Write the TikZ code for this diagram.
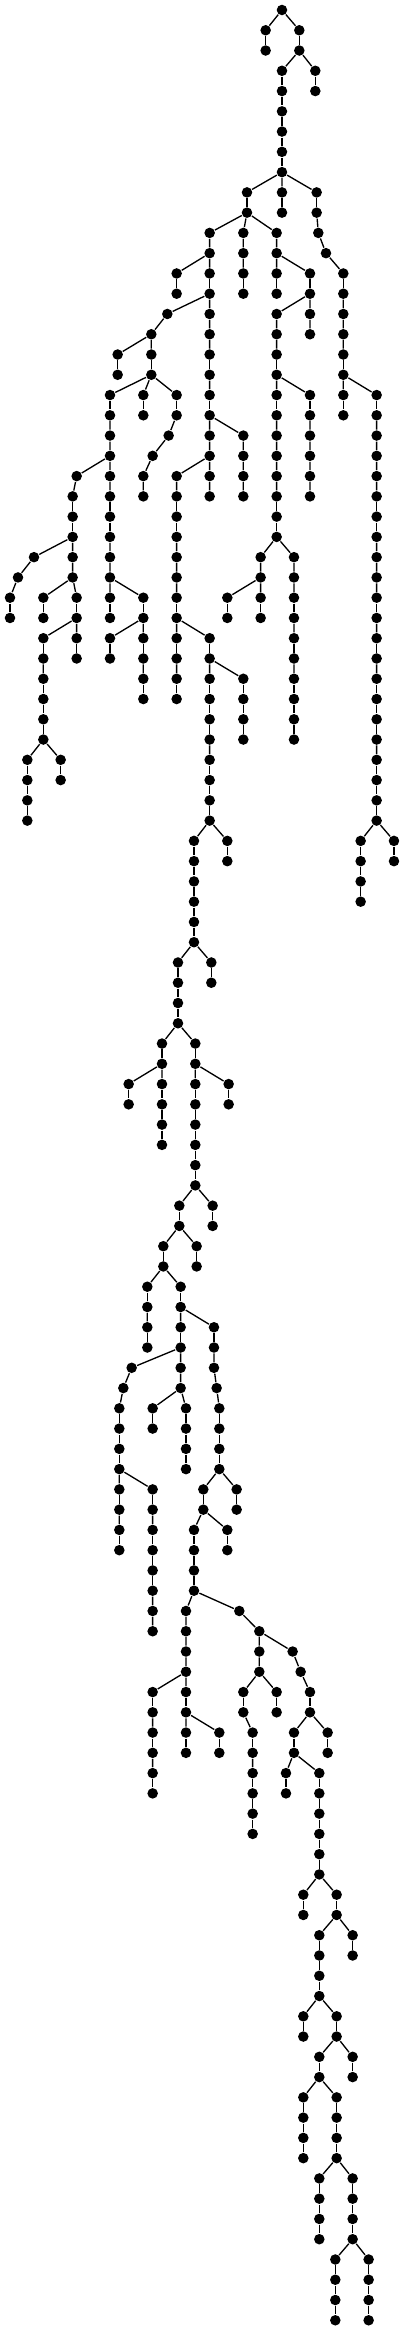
\documentclass[tikz,border=0pt]{standalone}
\begin{document}
\begin{tikzpicture}[x=0.25pt,y=-15.2pt,line join=round,line width=1pt,
  v/.style={circle,fill=black,inner sep=0pt,minimum size=7.9pt}]
\useasboundingbox (0,-0.493) rectangle (1212,114.53);
% vertices, one line per level
\node[v] (n0x846) at (846,0) {};
\node[v] (n1x797) at (797,1) {}; \node[v] (n1x898) at (898,1) {};
\node[v] (n2x797) at (797,2) {}; \node[v] (n2x898) at (898,2) {};
\node[v] (n3x846) at (846,3) {}; \node[v] (n3x946) at (946,3) {};
\node[v] (n4x846) at (846,4) {}; \node[v] (n4x946) at (946,4) {};
\node[v] (n5x846) at (846,5) {};
\node[v] (n6x846) at (846,6) {};
\node[v] (n7x846) at (846,7) {};
\node[v] (n8x846) at (846,8) {};
\node[v] (n9x741) at (741,9) {}; \node[v] (n9x846) at (846,9) {}; \node[v] (n9x950) at (950,9) {};
\node[v] (n10x741) at (741,10) {}; \node[v] (n10x846) at (846,10) {}; \node[v] (n10x950) at (950,10) {};
\node[v] (n11x629) at (629,11) {}; \node[v] (n11x730) at (730,11) {}; \node[v] (n11x830) at (830,11) {}; \node[v] (n11x955) at (955,11) {};
\node[v] (n12x629) at (629,12) {}; \node[v] (n12x730) at (730,12) {}; \node[v] (n12x830) at (830,12) {}; \node[v] (n12x978) at (978,12) {};
\node[v] (n13x530) at (530,13) {}; \node[v] (n13x629) at (629,13) {}; \node[v] (n13x730) at (730,13) {}; \node[v] (n13x830) at (830,13) {}; \node[v] (n13x930) at (930,13) {}; \node[v] (n13x1030) at (1030,13) {};
\node[v] (n14x530) at (530,14) {}; \node[v] (n14x629) at (629,14) {}; \node[v] (n14x730) at (730,14) {}; \node[v] (n14x830) at (830,14) {}; \node[v] (n14x930) at (930,14) {}; \node[v] (n14x1030) at (1030,14) {};
\node[v] (n15x502) at (502,15) {}; \node[v] (n15x629) at (629,15) {}; \node[v] (n15x830) at (830,15) {}; \node[v] (n15x930) at (930,15) {}; \node[v] (n15x1030) at (1030,15) {};
\node[v] (n16x454) at (454,16) {}; \node[v] (n16x629) at (629,16) {}; \node[v] (n16x830) at (830,16) {}; \node[v] (n16x930) at (930,16) {}; \node[v] (n16x1030) at (1030,16) {};
\node[v] (n17x353) at (353,17) {}; \node[v] (n17x454) at (454,17) {}; \node[v] (n17x629) at (629,17) {}; \node[v] (n17x830) at (830,17) {}; \node[v] (n17x1030) at (1030,17) {};
\node[v] (n18x353) at (353,18) {}; \node[v] (n18x454) at (454,18) {}; \node[v] (n18x629) at (629,18) {}; \node[v] (n18x830) at (830,18) {}; \node[v] (n18x1030) at (1030,18) {};
\node[v] (n19x330) at (330,19) {}; \node[v] (n19x430) at (430,19) {}; \node[v] (n19x530) at (530,19) {}; \node[v] (n19x629) at (629,19) {}; \node[v] (n19x830) at (830,19) {}; \node[v] (n19x930) at (930,19) {}; \node[v] (n19x1030) at (1030,19) {}; \node[v] (n19x1130) at (1130,19) {};
\node[v] (n20x330) at (330,20) {}; \node[v] (n20x430) at (430,20) {}; \node[v] (n20x530) at (530,20) {}; \node[v] (n20x629) at (629,20) {}; \node[v] (n20x830) at (830,20) {}; \node[v] (n20x930) at (930,20) {}; \node[v] (n20x1030) at (1030,20) {}; \node[v] (n20x1130) at (1130,20) {};
\node[v] (n21x330) at (330,21) {}; \node[v] (n21x506) at (506,21) {}; \node[v] (n21x629) at (629,21) {}; \node[v] (n21x730) at (730,21) {}; \node[v] (n21x830) at (830,21) {}; \node[v] (n21x930) at (930,21) {}; \node[v] (n21x1130) at (1130,21) {};
\node[v] (n22x330) at (330,22) {}; \node[v] (n22x458) at (458,22) {}; \node[v] (n22x629) at (629,22) {}; \node[v] (n22x730) at (730,22) {}; \node[v] (n22x830) at (830,22) {}; \node[v] (n22x930) at (930,22) {}; \node[v] (n22x1130) at (1130,22) {};
\node[v] (n23x230) at (230,23) {}; \node[v] (n23x330) at (330,23) {}; \node[v] (n23x430) at (430,23) {}; \node[v] (n23x530) at (530,23) {}; \node[v] (n23x629) at (629,23) {}; \node[v] (n23x730) at (730,23) {}; \node[v] (n23x830) at (830,23) {}; \node[v] (n23x930) at (930,23) {}; \node[v] (n23x1130) at (1130,23) {};
\node[v] (n24x218) at (218,24) {}; \node[v] (n24x330) at (330,24) {}; \node[v] (n24x430) at (430,24) {}; \node[v] (n24x530) at (530,24) {}; \node[v] (n24x629) at (629,24) {}; \node[v] (n24x730) at (730,24) {}; \node[v] (n24x830) at (830,24) {}; \node[v] (n24x930) at (930,24) {}; \node[v] (n24x1130) at (1130,24) {};
\node[v] (n25x218) at (218,25) {}; \node[v] (n25x330) at (330,25) {}; \node[v] (n25x530) at (530,25) {}; \node[v] (n25x830) at (830,25) {}; \node[v] (n25x1130) at (1130,25) {};
\node[v] (n26x218) at (218,26) {}; \node[v] (n26x330) at (330,26) {}; \node[v] (n26x530) at (530,26) {}; \node[v] (n26x830) at (830,26) {}; \node[v] (n26x1130) at (1130,26) {};
\node[v] (n27x102) at (102,27) {}; \node[v] (n27x218) at (218,27) {}; \node[v] (n27x330) at (330,27) {}; \node[v] (n27x530) at (530,27) {}; \node[v] (n27x782) at (782,27) {}; \node[v] (n27x882) at (882,27) {}; \node[v] (n27x1130) at (1130,27) {};
\node[v] (n28x54) at (54,28) {}; \node[v] (n28x218) at (218,28) {}; \node[v] (n28x330) at (330,28) {}; \node[v] (n28x530) at (530,28) {}; \node[v] (n28x782) at (782,28) {}; \node[v] (n28x882) at (882,28) {}; \node[v] (n28x1130) at (1130,28) {};
\node[v] (n29x30) at (30,29) {}; \node[v] (n29x130) at (130,29) {}; \node[v] (n29x230) at (230,29) {}; \node[v] (n29x330) at (330,29) {}; \node[v] (n29x430) at (430,29) {}; \node[v] (n29x530) at (530,29) {}; \node[v] (n29x682) at (682,29) {}; \node[v] (n29x782) at (782,29) {}; \node[v] (n29x882) at (882,29) {}; \node[v] (n29x1130) at (1130,29) {};
\node[v] (n30x30) at (30,30) {}; \node[v] (n30x130) at (130,30) {}; \node[v] (n30x230) at (230,30) {}; \node[v] (n30x330) at (330,30) {}; \node[v] (n30x430) at (430,30) {}; \node[v] (n30x530) at (530,30) {}; \node[v] (n30x682) at (682,30) {}; \node[v] (n30x782) at (782,30) {}; \node[v] (n30x882) at (882,30) {}; \node[v] (n30x1130) at (1130,30) {};
\node[v] (n31x130) at (130,31) {}; \node[v] (n31x230) at (230,31) {}; \node[v] (n31x330) at (330,31) {}; \node[v] (n31x430) at (430,31) {}; \node[v] (n31x530) at (530,31) {}; \node[v] (n31x629) at (629,31) {}; \node[v] (n31x882) at (882,31) {}; \node[v] (n31x1130) at (1130,31) {};
\node[v] (n32x130) at (130,32) {}; \node[v] (n32x230) at (230,32) {}; \node[v] (n32x330) at (330,32) {}; \node[v] (n32x430) at (430,32) {}; \node[v] (n32x530) at (530,32) {}; \node[v] (n32x629) at (629,32) {}; \node[v] (n32x882) at (882,32) {}; \node[v] (n32x1130) at (1130,32) {};
\node[v] (n33x130) at (130,33) {}; \node[v] (n33x430) at (430,33) {}; \node[v] (n33x530) at (530,33) {}; \node[v] (n33x629) at (629,33) {}; \node[v] (n33x730) at (730,33) {}; \node[v] (n33x882) at (882,33) {}; \node[v] (n33x1130) at (1130,33) {};
\node[v] (n34x130) at (130,34) {}; \node[v] (n34x430) at (430,34) {}; \node[v] (n34x530) at (530,34) {}; \node[v] (n34x629) at (629,34) {}; \node[v] (n34x730) at (730,34) {}; \node[v] (n34x882) at (882,34) {}; \node[v] (n34x1130) at (1130,34) {};
\node[v] (n35x130) at (130,35) {}; \node[v] (n35x629) at (629,35) {}; \node[v] (n35x730) at (730,35) {}; \node[v] (n35x882) at (882,35) {}; \node[v] (n35x1130) at (1130,35) {};
\node[v] (n36x130) at (130,36) {}; \node[v] (n36x629) at (629,36) {}; \node[v] (n36x730) at (730,36) {}; \node[v] (n36x882) at (882,36) {}; \node[v] (n36x1130) at (1130,36) {};
\node[v] (n37x82) at (82,37) {}; \node[v] (n37x182) at (182,37) {}; \node[v] (n37x629) at (629,37) {}; \node[v] (n37x1130) at (1130,37) {};
\node[v] (n38x82) at (82,38) {}; \node[v] (n38x182) at (182,38) {}; \node[v] (n38x629) at (629,38) {}; \node[v] (n38x1130) at (1130,38) {};
\node[v] (n39x82) at (82,39) {}; \node[v] (n39x629) at (629,39) {}; \node[v] (n39x1130) at (1130,39) {};
\node[v] (n40x82) at (82,40) {}; \node[v] (n40x629) at (629,40) {}; \node[v] (n40x1130) at (1130,40) {};
\node[v] (n41x582) at (582,41) {}; \node[v] (n41x682) at (682,41) {}; \node[v] (n41x1082) at (1082,41) {}; \node[v] (n41x1182) at (1182,41) {};
\node[v] (n42x582) at (582,42) {}; \node[v] (n42x682) at (682,42) {}; \node[v] (n42x1082) at (1082,42) {}; \node[v] (n42x1182) at (1182,42) {};
\node[v] (n43x582) at (582,43) {}; \node[v] (n43x1082) at (1082,43) {};
\node[v] (n44x582) at (582,44) {}; \node[v] (n44x1082) at (1082,44) {};
\node[v] (n45x582) at (582,45) {};
\node[v] (n46x582) at (582,46) {};
\node[v] (n47x534) at (534,47) {}; \node[v] (n47x634) at (634,47) {};
\node[v] (n48x534) at (534,48) {}; \node[v] (n48x634) at (634,48) {};
\node[v] (n49x534) at (534,49) {};
\node[v] (n50x534) at (534,50) {};
\node[v] (n51x486) at (486,51) {}; \node[v] (n51x586) at (586,51) {};
\node[v] (n52x486) at (486,52) {}; \node[v] (n52x586) at (586,52) {};
\node[v] (n53x386) at (386,53) {}; \node[v] (n53x486) at (486,53) {}; \node[v] (n53x586) at (586,53) {}; \node[v] (n53x686) at (686,53) {};
\node[v] (n54x386) at (386,54) {}; \node[v] (n54x486) at (486,54) {}; \node[v] (n54x586) at (586,54) {}; \node[v] (n54x686) at (686,54) {};
\node[v] (n55x486) at (486,55) {}; \node[v] (n55x586) at (586,55) {};
\node[v] (n56x486) at (486,56) {}; \node[v] (n56x586) at (586,56) {};
\node[v] (n57x586) at (586,57) {};
\node[v] (n58x586) at (586,58) {};
\node[v] (n59x538) at (538,59) {}; \node[v] (n59x638) at (638,59) {};
\node[v] (n60x538) at (538,60) {}; \node[v] (n60x638) at (638,60) {};
\node[v] (n61x490) at (490,61) {}; \node[v] (n61x590) at (590,61) {};
\node[v] (n62x490) at (490,62) {}; \node[v] (n62x590) at (590,62) {};
\node[v] (n63x442) at (442,63) {}; \node[v] (n63x542) at (542,63) {};
\node[v] (n64x442) at (442,64) {}; \node[v] (n64x542) at (542,64) {};
\node[v] (n65x442) at (442,65) {}; \node[v] (n65x542) at (542,65) {}; \node[v] (n65x642) at (642,65) {};
\node[v] (n66x442) at (442,66) {}; \node[v] (n66x542) at (542,66) {}; \node[v] (n66x642) at (642,66) {};
\node[v] (n67x395) at (395,67) {}; \node[v] (n67x542) at (542,67) {}; \node[v] (n67x642) at (642,67) {};
\node[v] (n68x370) at (370,68) {}; \node[v] (n68x542) at (542,68) {}; \node[v] (n68x650) at (650,68) {};
\node[v] (n69x358) at (358,69) {}; \node[v] (n69x458) at (458,69) {}; \node[v] (n69x558) at (558,69) {}; \node[v] (n69x658) at (658,69) {};
\node[v] (n70x358) at (358,70) {}; \node[v] (n70x458) at (458,70) {}; \node[v] (n70x558) at (558,70) {}; \node[v] (n70x658) at (658,70) {};
\node[v] (n71x358) at (358,71) {}; \node[v] (n71x558) at (558,71) {}; \node[v] (n71x658) at (658,71) {};
\node[v] (n72x358) at (358,72) {}; \node[v] (n72x558) at (558,72) {}; \node[v] (n72x658) at (658,72) {};
\node[v] (n73x358) at (358,73) {}; \node[v] (n73x458) at (458,73) {}; \node[v] (n73x610) at (610,73) {}; \node[v] (n73x710) at (710,73) {};
\node[v] (n74x358) at (358,74) {}; \node[v] (n74x458) at (458,74) {}; \node[v] (n74x610) at (610,74) {}; \node[v] (n74x710) at (710,74) {};
\node[v] (n75x358) at (358,75) {}; \node[v] (n75x458) at (458,75) {}; \node[v] (n75x582) at (582,75) {}; \node[v] (n75x682) at (682,75) {};
\node[v] (n76x358) at (358,76) {}; \node[v] (n76x458) at (458,76) {}; \node[v] (n76x582) at (582,76) {}; \node[v] (n76x682) at (682,76) {};
\node[v] (n77x458) at (458,77) {}; \node[v] (n77x582) at (582,77) {};
\node[v] (n78x458) at (458,78) {}; \node[v] (n78x582) at (582,78) {};
\node[v] (n79x458) at (458,79) {}; \node[v] (n79x558) at (558,79) {}; \node[v] (n79x718) at (718,79) {};
\node[v] (n80x458) at (458,80) {}; \node[v] (n80x558) at (558,80) {}; \node[v] (n80x778) at (778,80) {};
\node[v] (n81x558) at (558,81) {}; \node[v] (n81x778) at (778,81) {}; \node[v] (n81x878) at (878,81) {};
\node[v] (n82x558) at (558,82) {}; \node[v] (n82x778) at (778,82) {}; \node[v] (n82x902) at (902,82) {};
\node[v] (n83x458) at (458,83) {}; \node[v] (n83x558) at (558,83) {}; \node[v] (n83x730) at (730,83) {}; \node[v] (n83x830) at (830,83) {}; \node[v] (n83x930) at (930,83) {};
\node[v] (n84x458) at (458,84) {}; \node[v] (n84x558) at (558,84) {}; \node[v] (n84x730) at (730,84) {}; \node[v] (n84x830) at (830,84) {}; \node[v] (n84x930) at (930,84) {};
\node[v] (n85x458) at (458,85) {}; \node[v] (n85x558) at (558,85) {}; \node[v] (n85x658) at (658,85) {}; \node[v] (n85x758) at (758,85) {}; \node[v] (n85x882) at (882,85) {}; \node[v] (n85x983) at (983,85) {};
\node[v] (n86x458) at (458,86) {}; \node[v] (n86x558) at (558,86) {}; \node[v] (n86x658) at (658,86) {}; \node[v] (n86x758) at (758,86) {}; \node[v] (n86x882) at (882,86) {}; \node[v] (n86x983) at (983,86) {};
\node[v] (n87x458) at (458,87) {}; \node[v] (n87x758) at (758,87) {}; \node[v] (n87x858) at (858,87) {}; \node[v] (n87x958) at (958,87) {};
\node[v] (n88x458) at (458,88) {}; \node[v] (n88x758) at (758,88) {}; \node[v] (n88x858) at (858,88) {}; \node[v] (n88x958) at (958,88) {};
\node[v] (n89x758) at (758,89) {}; \node[v] (n89x958) at (958,89) {};
\node[v] (n90x758) at (758,90) {}; \node[v] (n90x958) at (958,90) {};
\node[v] (n91x958) at (958,91) {};
\node[v] (n92x958) at (958,92) {};
\node[v] (n93x910) at (910,93) {}; \node[v] (n93x1010) at (1010,93) {};
\node[v] (n94x910) at (910,94) {}; \node[v] (n94x1010) at (1010,94) {};
\node[v] (n95x958) at (958,95) {}; \node[v] (n95x1058) at (1058,95) {};
\node[v] (n96x958) at (958,96) {}; \node[v] (n96x1058) at (1058,96) {};
\node[v] (n97x958) at (958,97) {};
\node[v] (n98x958) at (958,98) {};
\node[v] (n99x910) at (910,99) {}; \node[v] (n99x1010) at (1010,99) {};
\node[v] (n100x910) at (910,100) {}; \node[v] (n100x1010) at (1010,100) {};
\node[v] (n101x958) at (958,101) {}; \node[v] (n101x1058) at (1058,101) {};
\node[v] (n102x958) at (958,102) {}; \node[v] (n102x1058) at (1058,102) {};
\node[v] (n103x910) at (910,103) {}; \node[v] (n103x1010) at (1010,103) {};
\node[v] (n104x910) at (910,104) {}; \node[v] (n104x1010) at (1010,104) {};
\node[v] (n105x910) at (910,105) {}; \node[v] (n105x1010) at (1010,105) {};
\node[v] (n106x910) at (910,106) {}; \node[v] (n106x1010) at (1010,106) {};
\node[v] (n107x958) at (958,107) {}; \node[v] (n107x1058) at (1058,107) {};
\node[v] (n108x958) at (958,108) {}; \node[v] (n108x1058) at (1058,108) {};
\node[v] (n109x958) at (958,109) {}; \node[v] (n109x1058) at (1058,109) {};
\node[v] (n110x958) at (958,110) {}; \node[v] (n110x1058) at (1058,110) {};
\node[v] (n111x1006) at (1006,111) {}; \node[v] (n111x1106) at (1106,111) {};
\node[v] (n112x1006) at (1006,112) {}; \node[v] (n112x1106) at (1106,112) {};
\node[v] (n113x1006) at (1006,113) {}; \node[v] (n113x1106) at (1106,113) {};
\node[v] (n114x1006) at (1006,114) {}; \node[v] (n114x1106) at (1106,114) {};
% edges, one line per level
\draw (n0x846)--(n1x797) (n0x846)--(n1x898);
\draw (n1x797)--(n2x797) (n1x898)--(n2x898);
\draw (n2x898)--(n3x846) (n2x898)--(n3x946);
\draw (n3x846)--(n4x846) (n3x946)--(n4x946);
\draw (n4x846)--(n5x846) (n5x846)--(n6x846) (n6x846)--(n7x846) (n7x846)--(n8x846);
\draw (n8x846)--(n9x741) (n8x846)--(n9x846) (n8x846)--(n9x950);
\draw (n9x741)--(n10x741) (n9x846)--(n10x846) (n9x950)--(n10x950);
\draw (n10x741)--(n11x629) (n10x741)--(n11x730) (n10x741)--(n11x830) (n10x950)--(n11x955);
\draw (n11x629)--(n12x629) (n11x730)--(n12x730) (n11x830)--(n12x830) (n11x955)--(n12x978);
\draw (n12x629)--(n13x530) (n12x629)--(n13x629) (n12x730)--(n13x730) (n12x830)--(n13x830) (n12x830)--(n13x930) (n12x978)--(n13x1030);
\draw (n13x530)--(n14x530) (n13x629)--(n14x629) (n13x730)--(n14x730) (n13x830)--(n14x830) (n13x930)--(n14x930) (n13x1030)--(n14x1030);
\draw (n14x629)--(n15x502) (n14x629)--(n15x629) (n14x930)--(n15x830) (n14x930)--(n15x930) (n14x1030)--(n15x1030);
\draw (n15x502)--(n16x454) (n15x629)--(n16x629) (n15x830)--(n16x830) (n15x930)--(n16x930) (n15x1030)--(n16x1030);
\draw (n16x454)--(n17x353) (n16x454)--(n17x454) (n16x629)--(n17x629) (n16x830)--(n17x830) (n16x1030)--(n17x1030);
\draw (n17x353)--(n18x353) (n17x454)--(n18x454) (n17x629)--(n18x629) (n17x830)--(n18x830) (n17x1030)--(n18x1030);
\draw (n18x454)--(n19x330) (n18x454)--(n19x430) (n18x454)--(n19x530) (n18x629)--(n19x629) (n18x830)--(n19x830) (n18x830)--(n19x930) (n18x1030)--(n19x1030) (n18x1030)--(n19x1130);
\draw (n19x330)--(n20x330) (n19x430)--(n20x430) (n19x530)--(n20x530) (n19x629)--(n20x629) (n19x830)--(n20x830) (n19x930)--(n20x930) (n19x1030)--(n20x1030) (n19x1130)--(n20x1130);
\draw (n20x330)--(n21x330) (n20x530)--(n21x506) (n20x629)--(n21x629) (n20x629)--(n21x730) (n20x830)--(n21x830) (n20x930)--(n21x930) (n20x1130)--(n21x1130);
\draw (n21x330)--(n22x330) (n21x506)--(n22x458) (n21x629)--(n22x629) (n21x730)--(n22x730) (n21x830)--(n22x830) (n21x930)--(n22x930) (n21x1130)--(n22x1130);
\draw (n22x330)--(n23x230) (n22x330)--(n23x330) (n22x458)--(n23x430) (n22x629)--(n23x530) (n22x629)--(n23x629) (n22x730)--(n23x730) (n22x830)--(n23x830) (n22x930)--(n23x930) (n22x1130)--(n23x1130);
\draw (n23x230)--(n24x218) (n23x330)--(n24x330) (n23x430)--(n24x430) (n23x530)--(n24x530) (n23x629)--(n24x629) (n23x730)--(n24x730) (n23x830)--(n24x830) (n23x930)--(n24x930) (n23x1130)--(n24x1130);
\draw (n24x218)--(n25x218) (n24x330)--(n25x330) (n24x530)--(n25x530) (n24x830)--(n25x830) (n24x1130)--(n25x1130);
\draw (n25x218)--(n26x218) (n25x330)--(n26x330) (n25x530)--(n26x530) (n25x830)--(n26x830) (n25x1130)--(n26x1130);
\draw (n26x218)--(n27x102) (n26x218)--(n27x218) (n26x330)--(n27x330) (n26x530)--(n27x530) (n26x830)--(n27x782) (n26x830)--(n27x882) (n26x1130)--(n27x1130);
\draw (n27x102)--(n28x54) (n27x218)--(n28x218) (n27x330)--(n28x330) (n27x530)--(n28x530) (n27x782)--(n28x782) (n27x882)--(n28x882) (n27x1130)--(n28x1130);
\draw (n28x54)--(n29x30) (n28x218)--(n29x130) (n28x218)--(n29x230) (n28x330)--(n29x330) (n28x330)--(n29x430) (n28x530)--(n29x530) (n28x782)--(n29x682) (n28x782)--(n29x782) (n28x882)--(n29x882) (n28x1130)--(n29x1130);
\draw (n29x30)--(n30x30) (n29x130)--(n30x130) (n29x230)--(n30x230) (n29x330)--(n30x330) (n29x430)--(n30x430) (n29x530)--(n30x530) (n29x682)--(n30x682) (n29x782)--(n30x782) (n29x882)--(n30x882) (n29x1130)--(n30x1130);
\draw (n30x230)--(n31x130) (n30x230)--(n31x230) (n30x430)--(n31x330) (n30x430)--(n31x430) (n30x530)--(n31x530) (n30x530)--(n31x629) (n30x882)--(n31x882) (n30x1130)--(n31x1130);
\draw (n31x130)--(n32x130) (n31x230)--(n32x230) (n31x330)--(n32x330) (n31x430)--(n32x430) (n31x530)--(n32x530) (n31x629)--(n32x629) (n31x882)--(n32x882) (n31x1130)--(n32x1130);
\draw (n32x130)--(n33x130) (n32x430)--(n33x430) (n32x530)--(n33x530) (n32x629)--(n33x629) (n32x629)--(n33x730) (n32x882)--(n33x882) (n32x1130)--(n33x1130);
\draw (n33x130)--(n34x130) (n33x430)--(n34x430) (n33x530)--(n34x530) (n33x629)--(n34x629) (n33x730)--(n34x730) (n33x882)--(n34x882) (n33x1130)--(n34x1130);
\draw (n34x130)--(n35x130) (n34x629)--(n35x629) (n34x730)--(n35x730) (n34x882)--(n35x882) (n34x1130)--(n35x1130);
\draw (n35x130)--(n36x130) (n35x629)--(n36x629) (n35x730)--(n36x730) (n35x882)--(n36x882) (n35x1130)--(n36x1130);
\draw (n36x130)--(n37x82) (n36x130)--(n37x182) (n36x629)--(n37x629) (n36x1130)--(n37x1130);
\draw (n37x82)--(n38x82) (n37x182)--(n38x182) (n37x629)--(n38x629) (n37x1130)--(n38x1130);
\draw (n38x82)--(n39x82) (n38x629)--(n39x629) (n38x1130)--(n39x1130);
\draw (n39x82)--(n40x82) (n39x629)--(n40x629) (n39x1130)--(n40x1130);
\draw (n40x629)--(n41x582) (n40x629)--(n41x682) (n40x1130)--(n41x1082) (n40x1130)--(n41x1182);
\draw (n41x582)--(n42x582) (n41x682)--(n42x682) (n41x1082)--(n42x1082) (n41x1182)--(n42x1182);
\draw (n42x582)--(n43x582) (n42x1082)--(n43x1082) (n43x582)--(n44x582) (n43x1082)--(n44x1082);
\draw (n44x582)--(n45x582) (n45x582)--(n46x582);
\draw (n46x582)--(n47x534) (n46x582)--(n47x634);
\draw (n47x534)--(n48x534) (n47x634)--(n48x634) (n48x534)--(n49x534) (n49x534)--(n50x534);
\draw (n50x534)--(n51x486) (n50x534)--(n51x586);
\draw (n51x486)--(n52x486) (n51x586)--(n52x586);
\draw (n52x486)--(n53x386) (n52x486)--(n53x486) (n52x586)--(n53x586) (n52x586)--(n53x686);
\draw (n53x386)--(n54x386) (n53x486)--(n54x486) (n53x586)--(n54x586) (n53x686)--(n54x686);
\draw (n54x486)--(n55x486) (n54x586)--(n55x586) (n55x486)--(n56x486) (n55x586)--(n56x586);
\draw (n56x586)--(n57x586) (n57x586)--(n58x586);
\draw (n58x586)--(n59x538) (n58x586)--(n59x638);
\draw (n59x538)--(n60x538) (n59x638)--(n60x638);
\draw (n60x538)--(n61x490) (n60x538)--(n61x590);
\draw (n61x490)--(n62x490) (n61x590)--(n62x590);
\draw (n62x490)--(n63x442) (n62x490)--(n63x542);
\draw (n63x442)--(n64x442) (n63x542)--(n64x542);
\draw (n64x442)--(n65x442) (n64x542)--(n65x542) (n64x542)--(n65x642);
\draw (n65x442)--(n66x442) (n65x542)--(n66x542) (n65x642)--(n66x642);
\draw (n66x542)--(n67x395) (n66x542)--(n67x542) (n66x642)--(n67x642);
\draw (n67x395)--(n68x370) (n67x542)--(n68x542) (n67x642)--(n68x650);
\draw (n68x370)--(n69x358) (n68x542)--(n69x458) (n68x542)--(n69x558) (n68x650)--(n69x658);
\draw (n69x358)--(n70x358) (n69x458)--(n70x458) (n69x558)--(n70x558) (n69x658)--(n70x658);
\draw (n70x358)--(n71x358) (n70x558)--(n71x558) (n70x658)--(n71x658);
\draw (n71x358)--(n72x358) (n71x558)--(n72x558) (n71x658)--(n72x658);
\draw (n72x358)--(n73x358) (n72x358)--(n73x458) (n72x658)--(n73x610) (n72x658)--(n73x710);
\draw (n73x358)--(n74x358) (n73x458)--(n74x458) (n73x610)--(n74x610) (n73x710)--(n74x710);
\draw (n74x358)--(n75x358) (n74x458)--(n75x458) (n74x610)--(n75x582) (n74x610)--(n75x682);
\draw (n75x358)--(n76x358) (n75x458)--(n76x458) (n75x582)--(n76x582) (n75x682)--(n76x682);
\draw (n76x458)--(n77x458) (n76x582)--(n77x582) (n77x458)--(n78x458) (n77x582)--(n78x582);
\draw (n78x458)--(n79x458) (n78x582)--(n79x558) (n78x582)--(n79x718);
\draw (n79x458)--(n80x458) (n79x558)--(n80x558) (n79x718)--(n80x778);
\draw (n80x558)--(n81x558) (n80x778)--(n81x778) (n80x778)--(n81x878);
\draw (n81x558)--(n82x558) (n81x778)--(n82x778) (n81x878)--(n82x902);
\draw (n82x558)--(n83x458) (n82x558)--(n83x558) (n82x778)--(n83x730) (n82x778)--(n83x830) (n82x902)--(n83x930);
\draw (n83x458)--(n84x458) (n83x558)--(n84x558) (n83x730)--(n84x730) (n83x830)--(n84x830) (n83x930)--(n84x930);
\draw (n84x458)--(n85x458) (n84x558)--(n85x558) (n84x558)--(n85x658) (n84x730)--(n85x758) (n84x930)--(n85x882) (n84x930)--(n85x983);
\draw (n85x458)--(n86x458) (n85x558)--(n86x558) (n85x658)--(n86x658) (n85x758)--(n86x758) (n85x882)--(n86x882) (n85x983)--(n86x983);
\draw (n86x458)--(n87x458) (n86x758)--(n87x758) (n86x882)--(n87x858) (n86x882)--(n87x958);
\draw (n87x458)--(n88x458) (n87x758)--(n88x758) (n87x858)--(n88x858) (n87x958)--(n88x958);
\draw (n88x758)--(n89x758) (n88x958)--(n89x958) (n89x758)--(n90x758) (n89x958)--(n90x958);
\draw (n90x958)--(n91x958) (n91x958)--(n92x958);
\draw (n92x958)--(n93x910) (n92x958)--(n93x1010);
\draw (n93x910)--(n94x910) (n93x1010)--(n94x1010);
\draw (n94x1010)--(n95x958) (n94x1010)--(n95x1058);
\draw (n95x958)--(n96x958) (n95x1058)--(n96x1058) (n96x958)--(n97x958) (n97x958)--(n98x958);
\draw (n98x958)--(n99x910) (n98x958)--(n99x1010);
\draw (n99x910)--(n100x910) (n99x1010)--(n100x1010);
\draw (n100x1010)--(n101x958) (n100x1010)--(n101x1058);
\draw (n101x958)--(n102x958) (n101x1058)--(n102x1058);
\draw (n102x958)--(n103x910) (n102x958)--(n103x1010);
\draw (n103x910)--(n104x910) (n103x1010)--(n104x1010) (n104x910)--(n105x910) (n104x1010)--(n105x1010);
\draw (n105x910)--(n106x910) (n105x1010)--(n106x1010);
\draw (n106x1010)--(n107x958) (n106x1010)--(n107x1058);
\draw (n107x958)--(n108x958) (n107x1058)--(n108x1058) (n108x958)--(n109x958) (n108x1058)--(n109x1058);
\draw (n109x958)--(n110x958) (n109x1058)--(n110x1058);
\draw (n110x1058)--(n111x1006) (n110x1058)--(n111x1106);
\draw (n111x1006)--(n112x1006) (n111x1106)--(n112x1106) (n112x1006)--(n113x1006) (n112x1106)--(n113x1106) (n113x1006)--(n114x1006) (n113x1106)--(n114x1106);
\end{tikzpicture}
\end{document}
